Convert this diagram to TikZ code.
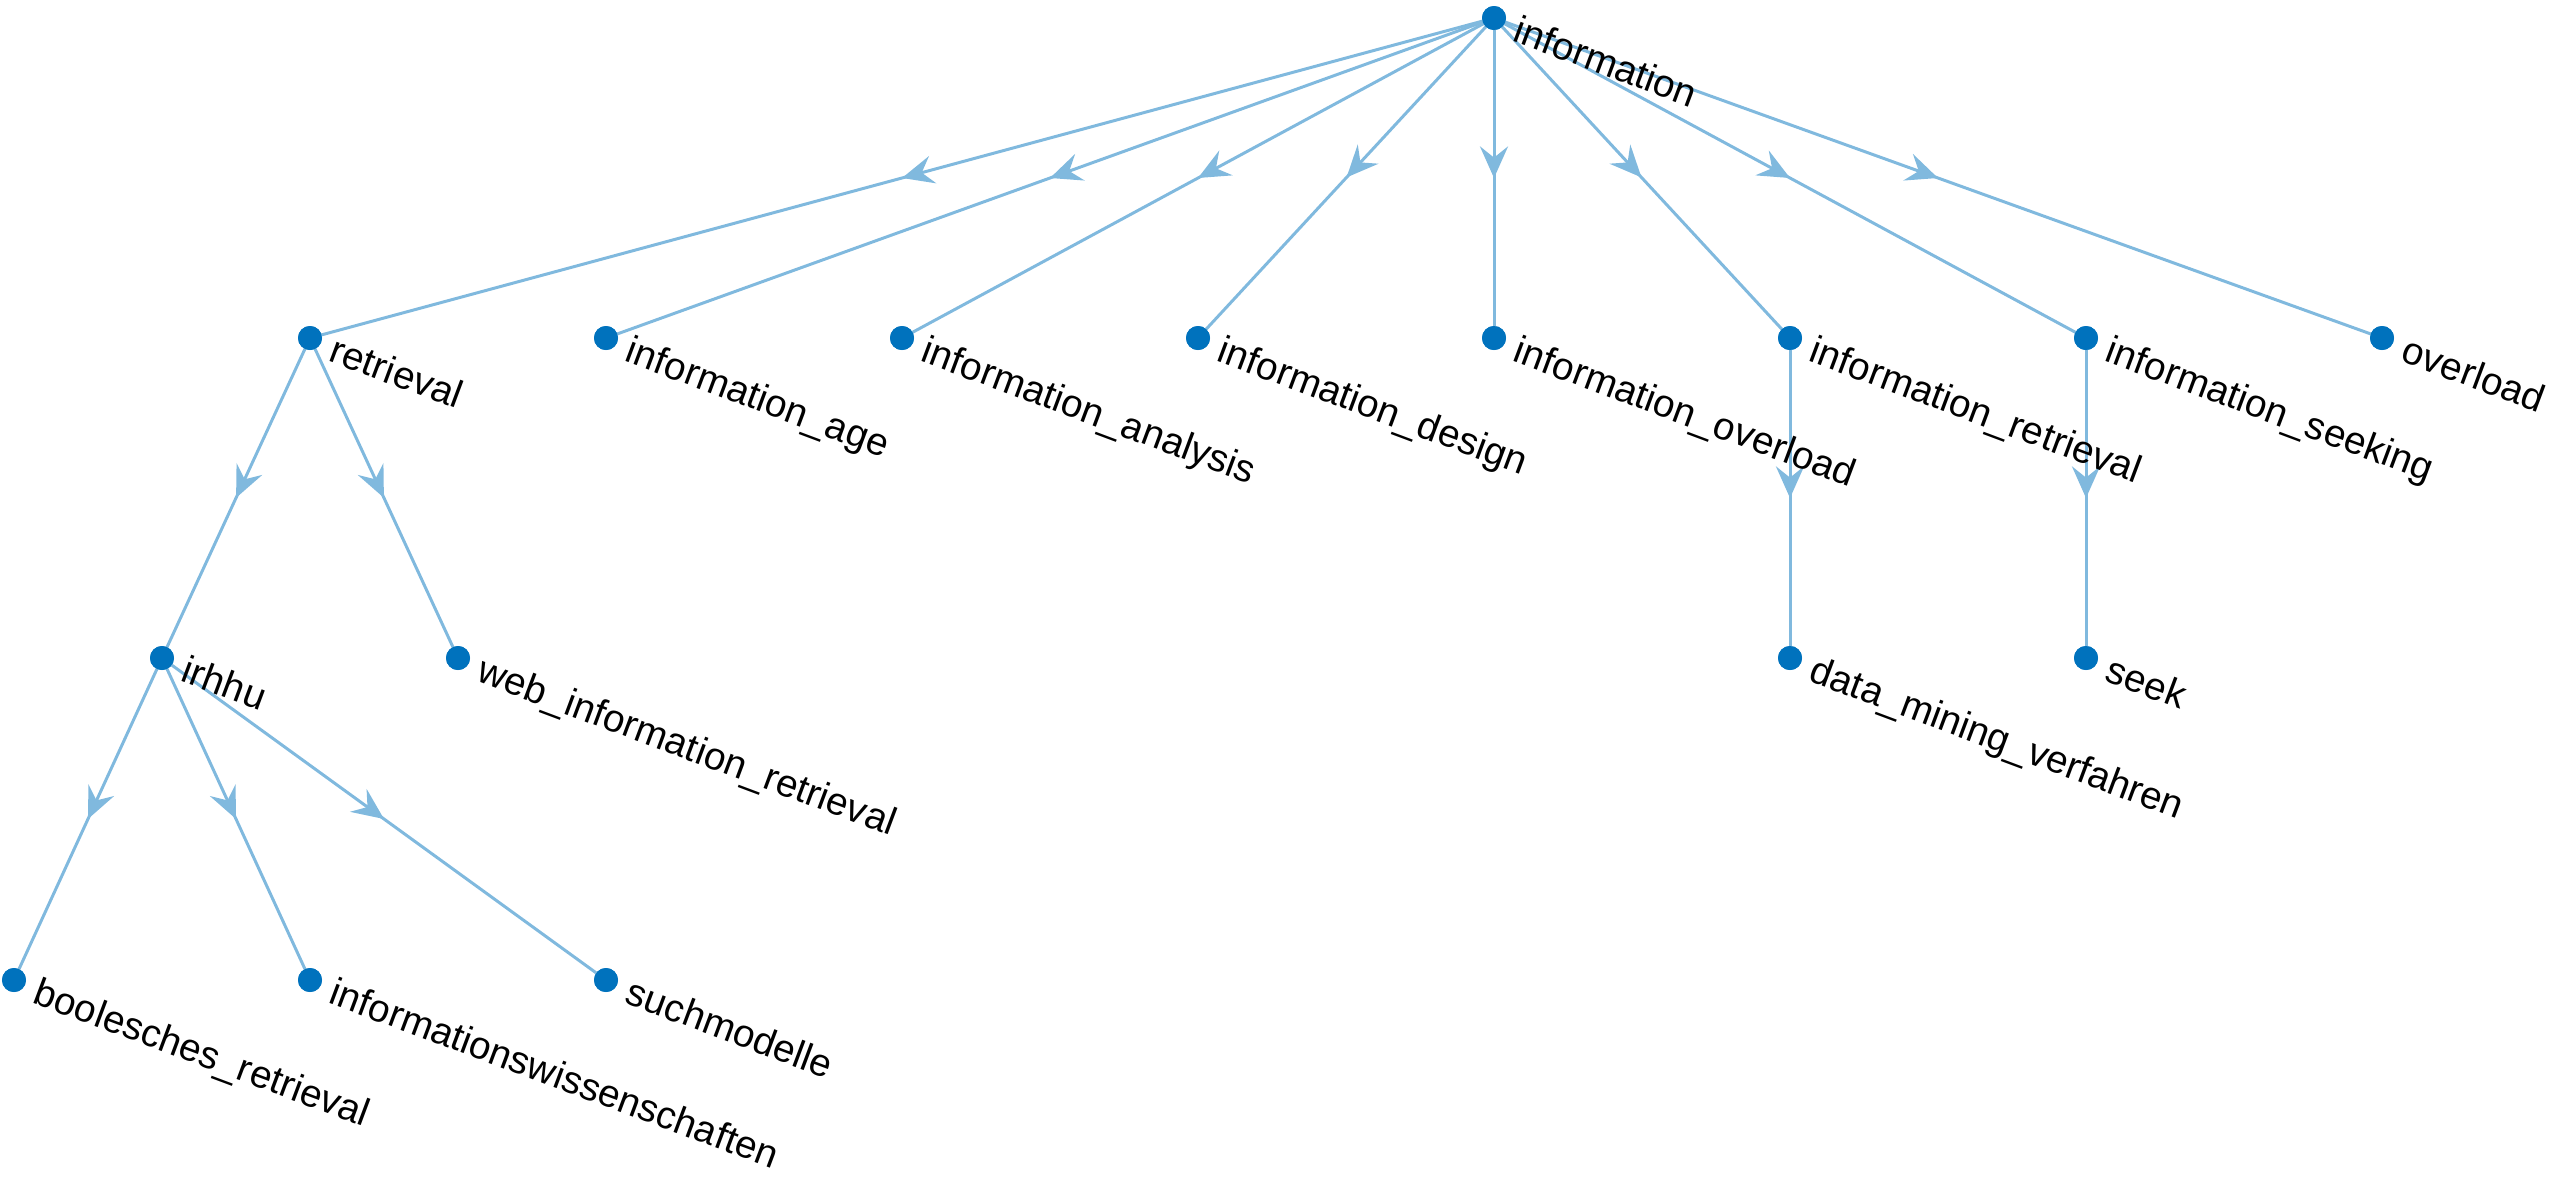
\documentclass[tikz,border=0pt]{standalone}
\usepackage{fontspec}
\setmainfont{Liberation Sans}
\usetikzlibrary{arrows.meta,decorations.markings}
\definecolor{edgeblue}{RGB}{128,185,222}
\definecolor{dotblue}{RGB}{0,114,189}
\tikzset{
  vert/.style={circle,fill=dotblue,inner sep=0pt,minimum size=0.24cm},
  lbl/.style={anchor=base west,inner sep=0pt,rotate=-20.5,
    font=\fontsize{11}{13}\selectfont,text=black},
  link/.style={draw=edgeblue,line width=0.85pt,
    postaction={decorate},
    decoration={markings,
      mark=at position 0.5 with {\arrow[edgeblue]{Stealth[length=9pt,width=8pt,inset=3.2pt]}}}}
}
\begin{document}
\begin{tikzpicture}
\useasboundingbox (0,0) rectangle (25.6,-11.77);

% vertices (1 unit = 100 px)
\node[vert] (information) at (14.94,-0.18) {};
\node[vert] (retrieval) at (3.10,-3.38) {};
\node[vert] (iage) at (6.06,-3.38) {};
\node[vert] (ianalysis) at (9.02,-3.38) {};
\node[vert] (idesign) at (11.98,-3.38) {};
\node[vert] (ioverload) at (14.94,-3.38) {};
\node[vert] (iretrieval) at (17.90,-3.38) {};
\node[vert] (iseeking) at (20.86,-3.38) {};
\node[vert] (overload) at (23.82,-3.38) {};
\node[vert] (irhhu) at (1.62,-6.58) {};
\node[vert] (webir) at (4.58,-6.58) {};
\node[vert] (dmv) at (17.90,-6.58) {};
\node[vert] (seek) at (20.86,-6.58) {};
\node[vert] (boolesch) at (0.14,-9.80) {};
\node[vert] (infwiss) at (3.10,-9.80) {};
\node[vert] (suchmod) at (6.06,-9.80) {};

% directed edges, arrowheads at mid-edge
\foreach \a/\b in {information/retrieval,information/iage,information/ianalysis,
  information/idesign,information/ioverload,information/iretrieval,
  information/iseeking,information/overload,retrieval/irhhu,retrieval/webir,
  iretrieval/dmv,iseeking/seek,irhhu/boolesch,irhhu/infwiss,irhhu/suchmod}
  \path[link] (\a.center) -- (\b.center);

% redraw vertices over the edges
\foreach \v in {information,retrieval,iage,ianalysis,idesign,ioverload,iretrieval,
  iseeking,overload,irhhu,webir,dmv,seek,boolesch,infwiss,suchmod}
  \fill[dotblue] (\v.center) circle (0.12);

% labels
\foreach \v/\t in {information/information,retrieval/retrieval,iage/information\_age,
  ianalysis/information\_analysis,idesign/information\_design,
  ioverload/information\_overload,iretrieval/information\_retrieval,
  iseeking/information\_seeking,overload/overload,irhhu/irhhu,
  webir/web\_information\_retrieval,dmv/data\_mining\_verfahren,seek/seek,
  boolesch/boolesches\_retrieval,infwiss/informationswissenschaften,
  suchmod/suchmodelle}
  \node[lbl] (l-\v) at ([shift={(0.17,-0.225)}]\v.center) {\t};
\end{tikzpicture}
\end{document}
